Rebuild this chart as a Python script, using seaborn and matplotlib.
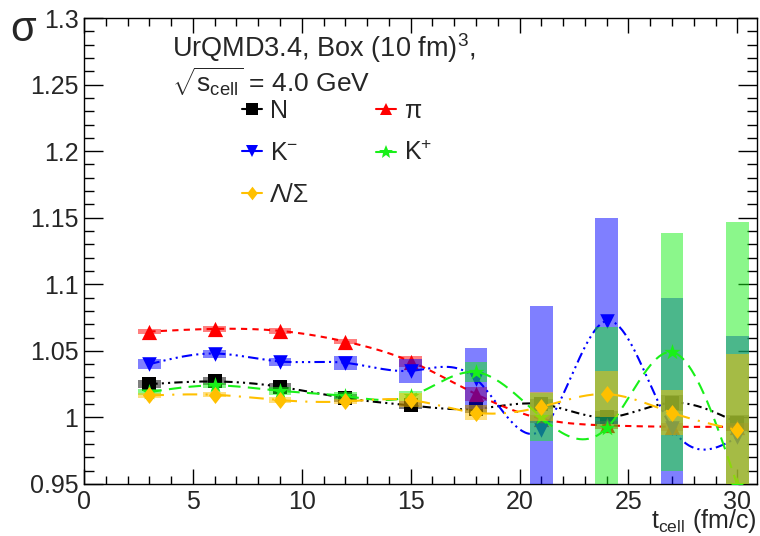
import numpy as np
import matplotlib
matplotlib.use("Agg")
import matplotlib.pyplot as plt
import seaborn as sns
from matplotlib.lines import Line2D
from matplotlib.path import Path
from matplotlib.ticker import MultipleLocator, FormatStrFormatter

# values
t_cell = [3, 6, 9, 12, 15, 18, 21, 24, 27, 30]

sig_N = [1.025, 1.027, 1.023, 1.0145, 1.009, 1.0065, 1.010, 1.000, 1.011, 0.996]
err_N = [0.003, 0.003, 0.003, 0.003, 0.003, 0.003, 0.004, 0.005, 0.006, 0.006]

sig_pi = [1.0645, 1.0665, 1.065, 1.057, 1.042, 1.0175, 0.999, 0.994, 0.993, 0.993]
err_pi = [0.002, 0.002, 0.002, 0.002, 0.004, 0.005, 0.003, 0.003, 0.003, 0.003]

sig_Km = [1.040, 1.048, 1.042, 1.041, 1.035, 1.029, 0.9906, 1.0725, 0.992, 0.985]
err_Km = [0.004, 0.003, 0.003, 0.0055, 0.009, 0.023, 0.093, 0.0775, 0.098, 0.076]

sig_Kp = [1.019, 1.024, 1.020, 1.016, 1.016, 1.034, 1.000, 0.992, 1.049, 0.949]
err_Kp = [0.002, 0.002, 0.003, 0.003, 0.004, 0.0075, 0.018, 0.076, 0.0896, 0.198]

sig_L = [1.0165, 1.017, 1.013, 1.012, 1.013, 1.0035, 1.008, 1.0175, 1.0035, 0.9905]
err_L = [0.002, 0.002, 0.002, 0.002, 0.005, 0.0055, 0.011, 0.017, 0.017, 0.057]


def smooth(x, y, n=400):
    # natural cubic spline, only used to draw the connecting curve
    x = np.asarray(x, float)
    y = np.asarray(y, float)
    m = len(x)
    h = np.diff(x)
    A = np.zeros((m, m))
    r = np.zeros(m)
    A[0, 0] = A[-1, -1] = 1
    for i in range(1, m - 1):
        A[i, i - 1] = h[i - 1]
        A[i, i] = 2 * (h[i - 1] + h[i])
        A[i, i + 1] = h[i]
        r[i] = 3 * ((y[i + 1] - y[i]) / h[i] - (y[i] - y[i - 1]) / h[i - 1])
    c = np.linalg.solve(A, r)
    b = (y[1:] - y[:-1]) / h - h * (2 * c[:-1] + c[1:]) / 3
    d = (c[1:] - c[:-1]) / (3 * h)
    xs = np.linspace(x[0], x[-1], n)
    idx = np.clip(np.searchsorted(x, xs) - 1, 0, m - 2)
    dx = xs - x[idx]
    ys = y[idx] + b[idx] * dx + c[idx] * dx ** 2 + d[idx] * dx ** 3
    return xs, ys


sns.set_theme(style="ticks")
plt.rcParams["font.family"] = ["Liberation Sans", "DejaVu Sans"]
plt.rcParams["mathtext.fontset"] = "custom"
plt.rcParams["mathtext.rm"] = "Liberation Sans"
plt.rcParams["mathtext.it"] = "Liberation Sans:italic"

diamond = Path([(0, 1), (0.78, 0), (0, -1), (-0.78, 0), (0, 1)],
               [Path.MOVETO, Path.LINETO, Path.LINETO, Path.LINETO, Path.CLOSEPOLY])

series = [
    ("N", sig_N, err_N, "black", "s", 100, (0, (4, 2, 1, 2, 1, 2))),
    ("π", sig_pi, err_pi, "#ff0000", "^", 120, (0, (3, 2.5))),
    (r"K$^{-}$", sig_Km, err_Km, "#0000ff", "v", 110, (0, (5, 2, 1, 2, 1, 2, 1, 2))),
    (r"K$^{+}$", sig_Kp, err_Kp, "#19f019", "*", 150, (0, (6, 3.5))),
    ("Λ/Σ", sig_L, err_L, "#ffc000", diamond, 150, (0, (7, 4, 1, 4))),
]

fig = plt.figure(figsize=(7.6, 5.36), dpi=100)
ax = fig.add_axes([84 / 760, 1 - 484 / 536, 673 / 760, 466 / 536])

handles = {}
for k, (name, vals, errs, col, mk, size, ls) in enumerate(series):
    z = 3 + 3 * k
    vals = np.array(vals)
    errs = np.array(errs)
    ax.bar(t_cell, 2 * errs, bottom=vals - errs, width=1.05, color=col,
           alpha=0.5, linewidth=0, zorder=z)
    xs, ys = smooth(t_cell, vals)
    sns.lineplot(x=xs, y=ys, ax=ax, color=col, linestyle=ls, linewidth=1.5,
                 estimator=None, sort=False, zorder=z + 1)
    sns.scatterplot(x=t_cell, y=vals, ax=ax, color=col, marker=mk, s=size,
                    linewidth=0, zorder=z + 2)
    ms = np.sqrt(size) * (0.85 if mk == "*" else 0.8)
    handles[name] = Line2D([], [], color=col, marker=mk, markersize=ms,
                           linewidth=1.5, markeredgewidth=0)

ax.set_xlim(0, 30.9)
ax.set_ylim(0.95, 1.3)
ax.xaxis.set_major_locator(MultipleLocator(5))
ax.xaxis.set_minor_locator(MultipleLocator(1))
ax.yaxis.set_major_locator(MultipleLocator(0.05))
ax.yaxis.set_minor_locator(MultipleLocator(0.01))
ax.yaxis.set_major_formatter(FormatStrFormatter("%g"))
ax.tick_params(which="both", direction="in", top=True, right=True,
               labelsize=18, color="black", width=1, pad=4)
ax.tick_params(axis="x", which="major", length=11)
ax.tick_params(axis="x", which="minor", length=5.5)
ax.tick_params(axis="y", which="major", length=14)
ax.tick_params(axis="y", which="minor", length=7)
for sp in ax.spines.values():
    sp.set_linewidth(1)
    sp.set_color("black")

ax.set_xlabel(r"$\mathrm{t_{cell}}$ (fm/c)", fontsize=18, loc="right", labelpad=-5)
ax.set_ylabel("σ", fontsize=30, rotation=0, va="center", ha="center")
ax.yaxis.set_label_coords(-0.09, 0.975)

ax.text(0.131, 0.916, r"UrQMD3.4, Box (10 fm)$^{3}$,", transform=ax.transAxes,
        fontsize=19.5, va="baseline", ha="left")
ax.text(0.131, 0.839, r"$\sqrt{\mathrm{s}_{\mathrm{cell}}}$ = 4.0 GeV",
        transform=ax.transAxes, fontsize=19, va="baseline", ha="left")

order = ["N", r"K$^{-}$", "Λ/Σ", "π", r"K$^{+}$"]
ax.legend([handles[o] for o in order], order, ncol=2, frameon=False,
          loc="upper left", bbox_to_anchor=(0.235, 0.826), fontsize=18,
          handlelength=0.8, handletextpad=0.3, columnspacing=2.7,
          labelspacing=0.72, borderpad=0, borderaxespad=0)

fig.savefig("out.png", dpi=100)
